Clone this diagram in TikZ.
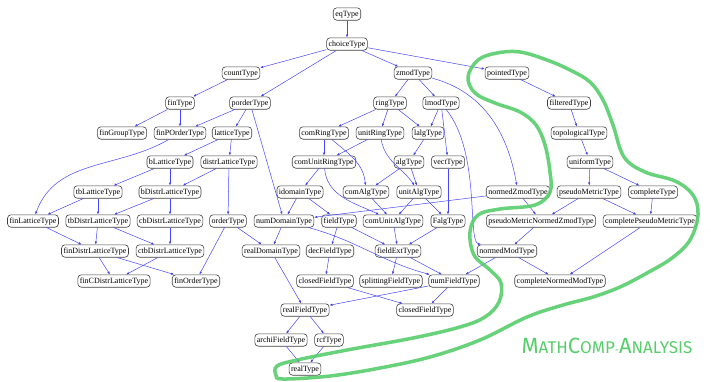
\documentclass[tikz,border=0pt]{standalone}
\usepackage{fontspec}
\setmainfont{Liberation Serif}
\newfontfamily\handfont{Fira Sans}
\usetikzlibrary{arrows.meta}

\definecolor{linkblue}{RGB}{70,70,255}
\definecolor{marker}{RGB}{88,205,108}

\tikzset{
  ty/.style={draw=black!75, line width=0.6pt, rounded corners=3.5pt, fill=white,
    inner xsep=2pt, inner ysep=2.3pt, text height=6pt, text depth=1.8pt,
    font=\fontsize{8}{9}\selectfont},
  link/.style={draw=linkblue, line width=0.5pt, -{Latex[length=3pt,width=2.4pt]}},
}
\newcommand{\hcap}[2]{{\fontsize{22}{22}\selectfont #1}{\fontsize{17}{17}\selectfont #2}}

\begin{document}
\begin{tikzpicture}[x=1pt,y=-1pt]
    \useasboundingbox (0,0) rectangle (711,381);

    % zgornji del
    \node[ty] (eq) at (347,14) {eqType};
    \node[ty] (choice) at (347,44) {choiceType};
    \node[ty] (count) at (241,73) {countType};
    \node[ty] (zmod) at (413,73) {zmodType};
    \node[ty] (pointed) at (507,73) {pointedType};
    \node[ty] (fin) at (180,103) {finType};
    \node[ty] (porder) at (250,103) {porderType};
    \node[ty] (ring) at (390,103) {ringType};
    \node[ty] (lmod) at (441,103) {lmodType};
    \node[ty] (filtered) at (569,103) {filteredType};

    % mreze
    \node[ty] (finGroup) at (122,133) {finGroupType};
    \node[ty] (finPOrder) at (180,133) {finPOrderType};
    \node[ty] (lattice) at (232,133) {latticeType};
    \node[ty] (bLattice) at (170,162) {bLatticeType};
    \node[ty] (distrLattice) at (229,162) {distrLatticeType};
    \node[ty] (tbLattice) at (98,192) {tbLatticeType};
    \node[ty] (bDistrLattice) at (170,192) {bDistrLatticeType};
    \node[ty] (finLattice) at (33,221) {finLatticeType};
    \node[ty] (tbDistrLattice) at (98,221) {tbDistrLatticeType};
    \node[ty] (cbDistrLattice) at (170,221) {cbDistrLatticeType};
    \node[ty] (order) at (228,221) {orderType};
    \node[ty] (finDistrLattice) at (95,251) {finDistrLatticeType};
    \node[ty] (ctbDistrLattice) at (170,251) {ctbDistrLatticeType};
    \node[ty] (finCDistrLattice) at (114,281) {finCDistrLatticeType};
    \node[ty] (finOrder) at (196,281) {finOrderType};

    % algebra
    \node[ty] (comRing) at (324,133) {comRingType};
    \node[ty] (unitRing) at (380,133) {unitRingType};
    \node[ty] (lalg) at (428,133) {lalgType};
    \node[ty] (comUnitRing) at (324,162) {comUnitRingType};
    \node[ty] (alg) at (409,162) {algType};
    \node[ty] (vect) at (448,162) {vectType};
    \node[ty] (idomain) at (300,192) {idomainType};
    \node[ty] (comAlg) at (366,192) {comAlgType};
    \node[ty] (unitAlg) at (419,192) {unitAlgType};
    \node[ty] (numDomain) at (284,221) {numDomainType};
    \node[ty] (field) at (339,221) {fieldType};
    \node[ty] (comUnitAlg) at (393,221) {comUnitAlgType};
    \node[ty] (Falg) at (448,221) {FalgType};
    \node[ty] (realDomain) at (271,251) {realDomainType};
    \node[ty] (decField) at (330,251) {decFieldType};
    \node[ty] (fieldExt) at (398,251) {fieldExtType};
    \node[ty] (closedField) at (325,281) {closedFieldType};
    \node[ty] (splittingField) at (391,281) {splittingFieldType};
    \node[ty] (numField) at (454,281) {numFieldType};
    \node[ty] (realField) at (305,310) {realFieldType};
    \node[ty] (closedFieldB) at (425,310) {closedFieldType};
    \node[ty] (archiField) at (281,340) {archiFieldType};
    \node[ty] (rcf) at (329,340) {rcfType};
    \node[ty] (real) at (305,369) {realType};

    % analiza
    \node[ty] (topological) at (579,133) {topologicalType};
    \node[ty] (uniform) at (590,162) {uniformType};
    \node[ty] (normedZmod) at (518,192) {normedZmodType};
    \node[ty] (pseudoMetric) at (589,192) {pseudoMetricType};
    \node[ty] (complete) at (653,192) {completeType};
    \node[ty] (pmNormedZmod) at (541,221) {pseudoMetricNormedZmodType};
    \node[ty] (completePM) at (650,221) {completePseudoMetricType};
    \node[ty] (normedMod) at (507,251) {normedModType};
    \node[ty] (completeNormedMod) at (560,281) {completeNormedModType};

    % povezave
    \path[link] (eq) edge (choice);
    \path[link] (choice) edge (count) edge (porder) edge (zmod) edge (pointed);
    \path[link] (count) edge (fin);
    \path[link] (fin) edge (finGroup) edge (finPOrder);
    \path[link] (porder) edge (finPOrder) edge (lattice) edge (numDomain);
    \path[link] (lattice) edge (bLattice) edge (distrLattice);
    \path[link] (bLattice) edge (tbLattice) edge (bDistrLattice);
    \path[link] (distrLattice) edge (bDistrLattice) edge (order);
    \path[link] (finPOrder) edge[out=-150,in=70] (finLattice);
    \path[link] (tbLattice) edge (finLattice) edge (tbDistrLattice);
    \path[link] (bDistrLattice) edge (tbDistrLattice) edge (cbDistrLattice);
    \path[link] (finLattice) edge (finDistrLattice);
    \path[link] (tbDistrLattice) edge (finDistrLattice) edge (ctbDistrLattice);
    \path[link] (cbDistrLattice) edge (ctbDistrLattice);
    \path[link] (finDistrLattice) edge (finCDistrLattice) edge (finOrder);
    \path[link] (ctbDistrLattice) edge (finCDistrLattice);
    \path[link] (order) edge (finOrder) edge (realDomain);
    \path[link] (zmod) edge (ring) edge (lmod) edge[out=-15,in=100] (normedZmod);
    \path[link] (ring) edge (comRing) edge (unitRing) edge (lalg);
    \path[link] (lmod) edge (lalg) edge (vect);
    \draw[link] (lmod) .. controls +(40,50) and +(-40,-10) .. (normedMod);
    \path[link] (comRing) edge (comUnitRing) edge[out=-40,in=95] (comAlg);
    \path[link] (unitRing) edge (comUnitRing) edge[out=-80,in=125] (unitAlg);
    \path[link] (lalg) edge (alg);
    \path[link] (alg) edge (comAlg) edge (unitAlg);
    \path[link] (comUnitRing) edge (idomain) edge[out=-85,in=155] (comUnitAlg);
    \path[link] (comAlg) edge (comUnitAlg);
    \path[link] (unitAlg) edge (comUnitAlg) edge (Falg);
    \path[link] (vect) edge (Falg);
    \path[link] (idomain) edge (numDomain) edge (field);
    \path[link] (normedZmod) edge (numDomain) edge (pmNormedZmod);
    \path[link] (numDomain) edge (realDomain) edge[out=-15,in=165] (numField);
    \path[link] (field) edge (decField) edge (fieldExt);
    \path[link] (comUnitAlg) edge (fieldExt);
    \path[link] (Falg) edge (fieldExt);
    \path[link] (fieldExt) edge (splittingField) edge (numField);
    \path[link] (decField) edge (closedField);
    \path[link] (closedField) edge (closedFieldB);
    \path[link] (numField) edge (realField) edge (closedFieldB);
    \path[link] (realDomain) edge (realField);
    \path[link] (realField) edge (archiField) edge (rcf);
    \path[link] (archiField) edge (real);
    \path[link] (rcf) edge (real);
    \path[link] (normedMod) edge (numField) edge (completeNormedMod);
    \path[link] (pointed) edge (filtered);
    \path[link] (filtered) edge (topological);
    \path[link] (topological) edge (uniform);
    \path[link] (uniform) edge (pseudoMetric) edge (complete);
    \path[link] (pseudoMetric) edge (pmNormedZmod) edge (completePM);
    \path[link] (complete) edge (completePM);
    \path[link] (pmNormedZmod) edge (normedMod);
    \path[link] (completePM) edge (completeNormedMod);

    % zelena obroba
    \draw[marker, line width=3.5pt, line cap=round, opacity=0.9]
      plot[smooth cycle, tension=0.6] coordinates {
        (283,379) (330,376) (380,368) (430,357) (480,340) (527,317) (563,305)
        (593,297) (620,287) (647,273) (672,258) (690,240) (698,215) (693,195)
        (675,181) (645,172) (624,157) (613,125) (603,100) (590,82) (570,70)
        (547,60) (520,52) (497,53) (478,60) (468,77) (475,93) (495,103)
        (520,112) (536,125) (545,145) (550,172) (550,192) (535,205) (500,209)
        (478,215) (470,232) (474,255) (490,270) (501,283) (499,302) (485,317)
        (460,327) (413,338) (347,350) (297,360) (277,366) (276,375)};
    \node[text=marker, font=\handfont, inner sep=0pt] (title) at (607,346)
      {\hcap{M}{ATH}\hcap{C}{OMP}-\hcap{A}{NALYSIS}};
\end{tikzpicture}
\end{document}
